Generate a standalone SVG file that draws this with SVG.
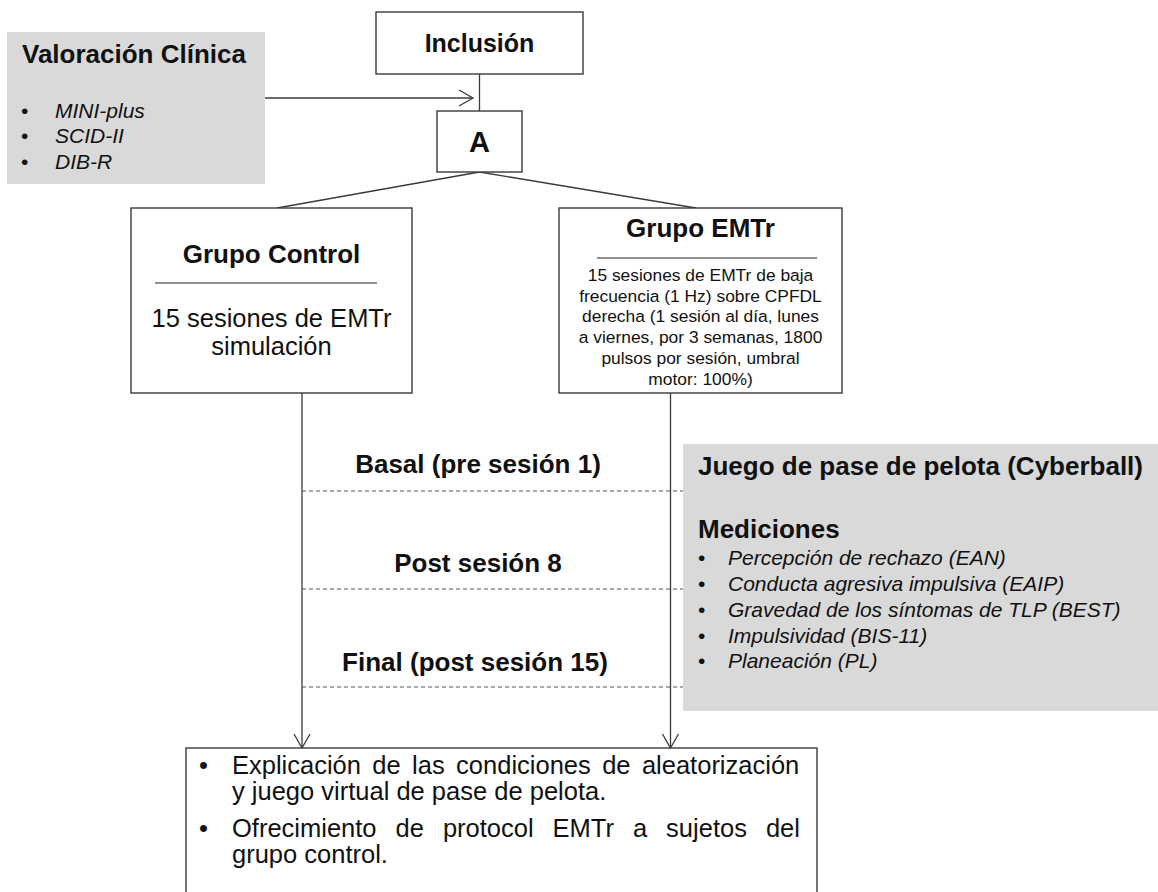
<svg xmlns="http://www.w3.org/2000/svg" width="1158" height="892" viewBox="0 0 1158 892">
<style>
text{font-family:"Liberation Sans",Arial,sans-serif;fill:#111}
.b{font-weight:bold;font-size:26px}
.r{font-size:25.5px}
.s{font-size:17.4px}
.i{font-style:italic;font-size:21px}
.box{fill:#fff;stroke:#3a3a3a;stroke-width:1.4}
.gray{fill:#d9d9d9}
.ln{stroke:#3a3a3a;stroke-width:1.3;fill:none}
.sep{stroke:#222;stroke-width:1.2}
.dash{stroke:#555;stroke-width:1;stroke-dasharray:4 3;fill:none}
</style>
<defs>
<marker id="open" viewBox="-16 -9 18 18" markerWidth="18" markerHeight="18" refX="0" refY="0" orient="auto" markerUnits="userSpaceOnUse">
<path d="M-14,-8 L0,0 L-14,8" fill="none" stroke="#3a3a3a" stroke-width="1.3"/>
</marker>
</defs>
<g id="connectors">
<line class="ln" x1="265" y1="98" x2="473" y2="98" marker-end="url(#open)"/>
<line class="ln" x1="479.5" y1="74" x2="479.5" y2="111"/>
<line class="ln" x1="479.5" y1="172" x2="277" y2="208"/>
<line class="ln" x1="479.5" y1="172" x2="696" y2="208"/>
<line class="ln" x1="302" y1="393" x2="302" y2="748" marker-end="url(#open)"/>
<line class="ln" x1="670.5" y1="393" x2="670.5" y2="748" marker-end="url(#open)"/>
<line class="dash" x1="302" y1="491" x2="690" y2="491"/>
<line class="dash" x1="302" y1="589" x2="690" y2="589"/>
<line class="dash" x1="302" y1="687" x2="690" y2="687"/>
</g>
<g id="valoracion">
<rect class="gray" x="7" y="32" width="258" height="152"/>
<text class="b" x="22" y="63">Valoración Clínica</text>
<text class="i" x="21" y="118" style="font-style:normal">•</text>
<text class="i" x="55" y="118">MINI-plus</text>
<text class="i" x="21" y="143" style="font-style:normal">•</text>
<text class="i" x="55" y="143">SCID-II</text>
<text class="i" x="21" y="169" style="font-style:normal">•</text>
<text class="i" x="55" y="169">DIB-R</text>
</g>
<g id="inclusion">
<rect class="box" x="376" y="12" width="207" height="62"/>
<text class="b" x="479.5" y="52" text-anchor="middle" style="font-size:25px">Inclusión</text>
</g>
<g id="a">
<rect class="box" x="437" y="111" width="85" height="61"/>
<text class="b" x="479.5" y="152" text-anchor="middle" style="font-size:29px">A</text>
</g>
<g id="grupo-control">
<rect class="box" x="131" y="208" width="281" height="185"/>
<text class="b" x="271.5" y="263" text-anchor="middle">Grupo Control</text>
<line class="sep" x1="155" y1="283" x2="377" y2="283"/>
<text class="r" x="271.5" y="327" text-anchor="middle">15 sesiones de EMTr</text>
<text class="r" x="271.5" y="355" text-anchor="middle">simulación</text>
</g>
<g id="grupo-emtr">
<rect class="box" x="559" y="208" width="283" height="185"/>
<text class="b" x="700.5" y="237" text-anchor="middle">Grupo EMTr</text>
<line class="sep" x1="597" y1="258" x2="817" y2="258"/>
<text class="s" x="700.5" y="281" text-anchor="middle">15 sesiones de EMTr de baja</text>
<text class="s" x="700.5" y="302" text-anchor="middle">frecuencia (1 Hz) sobre CPFDL</text>
<text class="s" x="700.5" y="322" text-anchor="middle">derecha (1 sesión al día, lunes</text>
<text class="s" x="700.5" y="343" text-anchor="middle">a viernes, por 3 semanas, 1800</text>
<text class="s" x="700.5" y="364" text-anchor="middle">pulsos por sesión, umbral</text>
<text class="s" x="700.5" y="385" text-anchor="middle">motor: 100%)</text>
</g>
<g id="tiempos">
<text class="b" x="478" y="473" text-anchor="middle">Basal (pre sesión 1)</text>
<text class="b" x="478" y="572" text-anchor="middle">Post sesión 8</text>
<text class="b" x="475" y="671" text-anchor="middle">Final (post sesión 15)</text>
</g>
<g id="cyberball">
<rect class="gray" x="683" y="444" width="475" height="267"/>
<text class="b" x="698" y="475">Juego de pase de pelota (Cyberball)</text>
<text class="b" x="698" y="538">Mediciones</text>
<text class="i" x="698" y="565" style="font-style:normal">•</text>
<text class="i" x="728" y="565">Percepción de rechazo (EAN)</text>
<text class="i" x="698" y="591" style="font-style:normal">•</text>
<text class="i" x="728" y="591">Conducta agresiva impulsiva (EAIP)</text>
<text class="i" x="698" y="617" style="font-style:normal">•</text>
<text class="i" x="728" y="617">Gravedad de los síntomas de TLP (BEST)</text>
<text class="i" x="698" y="643" style="font-style:normal">•</text>
<text class="i" x="728" y="643">Impulsividad (BIS-11)</text>
<text class="i" x="698" y="668" style="font-style:normal">•</text>
<text class="i" x="728" y="668">Planeación (PL)</text>
</g>
<g id="final">
<rect class="box" x="186" y="748" width="631" height="160"/>
<text class="r" x="199" y="774">•</text>
<text class="r" x="232" y="774" style="word-spacing:4.3px">Explicación de las condiciones de aleatorización</text>
<text class="r" x="232" y="800">y juego virtual de pase de pelota.</text>
<text class="r" x="199" y="837">•</text>
<text class="r" x="232" y="837" style="word-spacing:11.9px">Ofrecimiento de protocol EMTr a sujetos del</text>
<text class="r" x="232" y="863">grupo control.</text>
</g>
</svg>
